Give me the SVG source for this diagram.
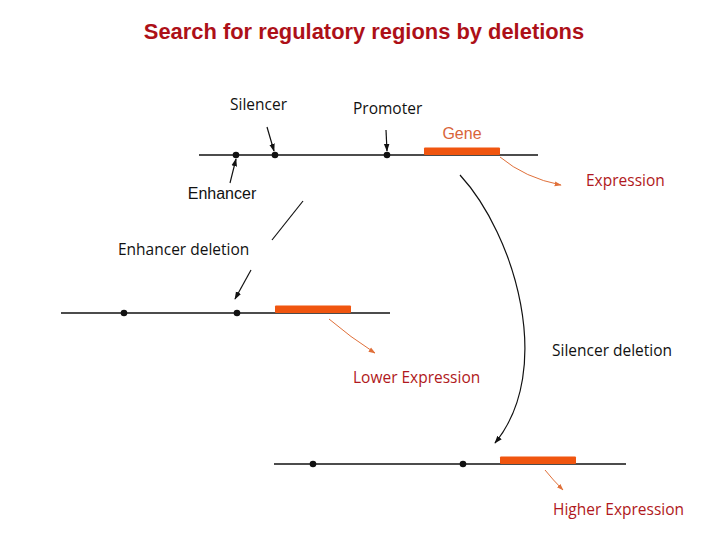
<svg xmlns="http://www.w3.org/2000/svg" width="720" height="540" viewBox="0 0 720 540">
<defs>
<style>
.dna{stroke:#111;stroke-width:1.6;fill:none}
.dot{fill:#111}
.gene{fill:#f0550f}
.lbl{font-family:"Open Sans","Liberation Sans",sans-serif;font-size:15.5px;fill:#111}
.red{font-family:"Open Sans","Liberation Sans",sans-serif;font-size:15.5px;fill:#b01820}
.arr{stroke:#111;stroke-width:1.2;fill:none}
.oarr{stroke:#e0703a;stroke-width:1;fill:none}
</style>
<marker id="ah" viewBox="0 0 10 10" refX="9" refY="5" markerWidth="8" markerHeight="8" orient="auto" markerUnits="userSpaceOnUse"><path d="M0,1.5 L10,5 L0,8.5 Z" fill="#111"/></marker>
<marker id="oh" viewBox="0 0 10 10" refX="9" refY="5" markerWidth="7" markerHeight="7" orient="auto" markerUnits="userSpaceOnUse"><path d="M0,1.5 L10,5 L0,8.5 Z" fill="#e0703a"/></marker>
</defs>
<rect width="720" height="540" fill="#fff"/>
<text x="364" y="39" text-anchor="middle" font-family="'Liberation Sans',Arial,sans-serif" font-weight="bold" font-size="21.9" fill="#ad1018">Search for regulatory regions by deletions</text>

<g id="wildtype">
<line class="dna" x1="199" y1="155" x2="538" y2="155"/>
<circle class="dot" cx="236" cy="155" r="3.3"/>
<circle class="dot" cx="275" cy="155" r="3.3"/>
<circle class="dot" cx="387" cy="155" r="3.3"/>
<rect class="gene" x="424" y="147.5" width="76" height="7.5" rx="1"/>
<text x="462" y="139" text-anchor="middle" font-family="'Liberation Sans',Arial,sans-serif" font-size="16" fill="#d8643a">Gene</text>
<text x="222" y="199" text-anchor="middle" font-family="'Liberation Sans',Arial,sans-serif" font-size="16" fill="#111">Enhancer</text>
</g>
<g id="labels">
<text class="lbl" x="230" y="110">Silencer</text>
<text class="lbl" x="353" y="114">Promoter</text>
<text class="red" x="586" y="186">Expression</text>
<text class="lbl" x="118" y="255">Enhancer deletion</text>
<text class="red" x="353" y="383">Lower Expression</text>
<text class="lbl" x="552" y="356">Silencer deletion</text>
<text class="red" x="553" y="515">Higher Expression</text>
</g>
<g id="enhancer-deletion">
<line class="dna" x1="61" y1="313" x2="390" y2="313"/>
<circle class="dot" cx="124" cy="313" r="3.3"/>
<circle class="dot" cx="237" cy="313" r="3.3"/>
<rect class="gene" x="275" y="305.5" width="76" height="7.5" rx="1"/>
</g>
<g id="silencer-deletion">
<line class="dna" x1="274" y1="464" x2="626" y2="464"/>
<circle class="dot" cx="313" cy="464" r="3.3"/>
<circle class="dot" cx="463" cy="464" r="3.3"/>
<rect class="gene" x="500" y="456.5" width="76" height="7.5" rx="1"/>
</g>
<g id="connectors">
<line class="arr" x1="267" y1="127" x2="274" y2="151" marker-end="url(#ah)"/>
<line class="arr" x1="386" y1="130" x2="387" y2="151" marker-end="url(#ah)"/>
<line class="arr" x1="230" y1="183" x2="236" y2="159" marker-end="url(#ah)"/>
<line class="arr" x1="303" y1="201" x2="272" y2="240"/>
<line class="arr" x1="251" y1="270" x2="235" y2="299" marker-end="url(#ah)"/>
<path class="arr" d="M460,175 C515,235 555,370 495,443" marker-end="url(#ah)"/>
<path class="oarr" d="M500,157 Q525,178 561,185" marker-end="url(#oh)"/>
<path class="oarr" d="M329,319 Q350,337 375,353" marker-end="url(#oh)"/>
<path class="oarr" d="M545,470 Q553,480 563,490" marker-end="url(#oh)"/>
</g>
</svg>
